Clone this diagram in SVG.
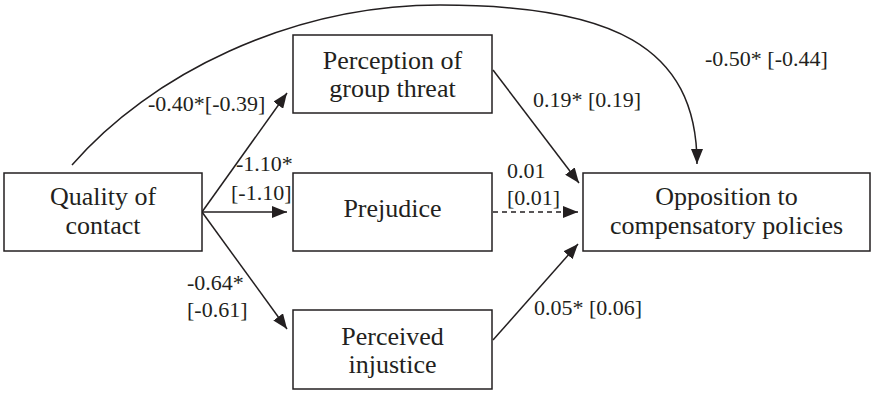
<svg xmlns="http://www.w3.org/2000/svg" width="872" height="394" viewBox="0 0 872 394">
<style>
.box{fill:#fff;stroke:#231f20;stroke-width:1.5}
.nt{font-size:26px;fill:#231f20;text-anchor:middle}
.lb{font-size:22px;fill:#231f20}
.ed{fill:none;stroke:#231f20;stroke-width:1.5}
.dash{stroke-dasharray:5,4}
</style>
<defs>
<marker id="ah" markerUnits="userSpaceOnUse" markerWidth="16" markerHeight="12" refX="15" refY="6" orient="auto">
<path d="M0,0 L15,6 L0,12 Z" fill="#231f20"/>
</marker>
</defs>
<rect width="872" height="394" fill="#fff"/>
<g id="connectors">
<path class="ed" d="M72,165 C150,75 290,5 440,5 C610,5 697,45 697,164" marker-end="url(#ah)"/>
<line class="ed" x1="202" y1="212" x2="287" y2="93" marker-end="url(#ah)"/>
<line class="ed" x1="202" y1="212" x2="287" y2="212" marker-end="url(#ah)"/>
<line class="ed" x1="202" y1="212" x2="287" y2="329" marker-end="url(#ah)"/>
<line class="ed" x1="493" y1="70" x2="579" y2="183" marker-end="url(#ah)"/>
<line class="ed dash" x1="493" y1="212" x2="578" y2="212" marker-end="url(#ah)"/>
<line class="ed" x1="493" y1="340" x2="578" y2="244" marker-end="url(#ah)"/>
</g>
<g id="labels" font-family="Liberation Serif, Times New Roman, DejaVu Serif, serif">
<text class="lb" x="148" y="111">-0.40*[-0.39]</text>
<text class="lb" x="705" y="66">-0.50* [-0.44]</text>
<text class="lb" x="533" y="107">0.19* [0.19]</text>
<text class="lb" x="507" y="178">0.01</text>
<text class="lb" x="507" y="205">[0.01]</text>
<text class="lb" x="236" y="171">-1.10*</text>
<text class="lb" x="231" y="200">[-1.10]</text>
<text class="lb" x="187" y="290">-0.64*</text>
<text class="lb" x="187" y="317">[-0.61]</text>
<text class="lb" x="534" y="315">0.05* [0.06]</text>
</g>
<g id="quality" font-family="Liberation Serif, Times New Roman, DejaVu Serif, serif">
<rect class="box" x="4" y="173" width="198" height="78"/>
<text class="nt" x="103" y="205">Quality of</text>
<text class="nt" x="103" y="234">contact</text>
</g>
<g id="threat" font-family="Liberation Serif, Times New Roman, DejaVu Serif, serif">
<rect class="box" x="293" y="35" width="199" height="78"/>
<text class="nt" x="392.5" y="69">Perception of</text>
<text class="nt" x="392.5" y="97">group threat</text>
</g>
<g id="prejudice" font-family="Liberation Serif, Times New Roman, DejaVu Serif, serif">
<rect class="box" x="293" y="173" width="199" height="78"/>
<text class="nt" x="392.5" y="217">Prejudice</text>
</g>
<g id="injustice" font-family="Liberation Serif, Times New Roman, DejaVu Serif, serif">
<rect class="box" x="293" y="310" width="199" height="79"/>
<text class="nt" x="392.5" y="345">Perceived</text>
<text class="nt" x="392.5" y="373">injustice</text>
</g>
<g id="opposition" font-family="Liberation Serif, Times New Roman, DejaVu Serif, serif">
<rect class="box" x="583" y="173" width="287" height="78"/>
<text class="nt" x="726.5" y="205">Opposition to</text>
<text class="nt" x="726.5" y="234">compensatory policies</text>
</g>
</svg>
